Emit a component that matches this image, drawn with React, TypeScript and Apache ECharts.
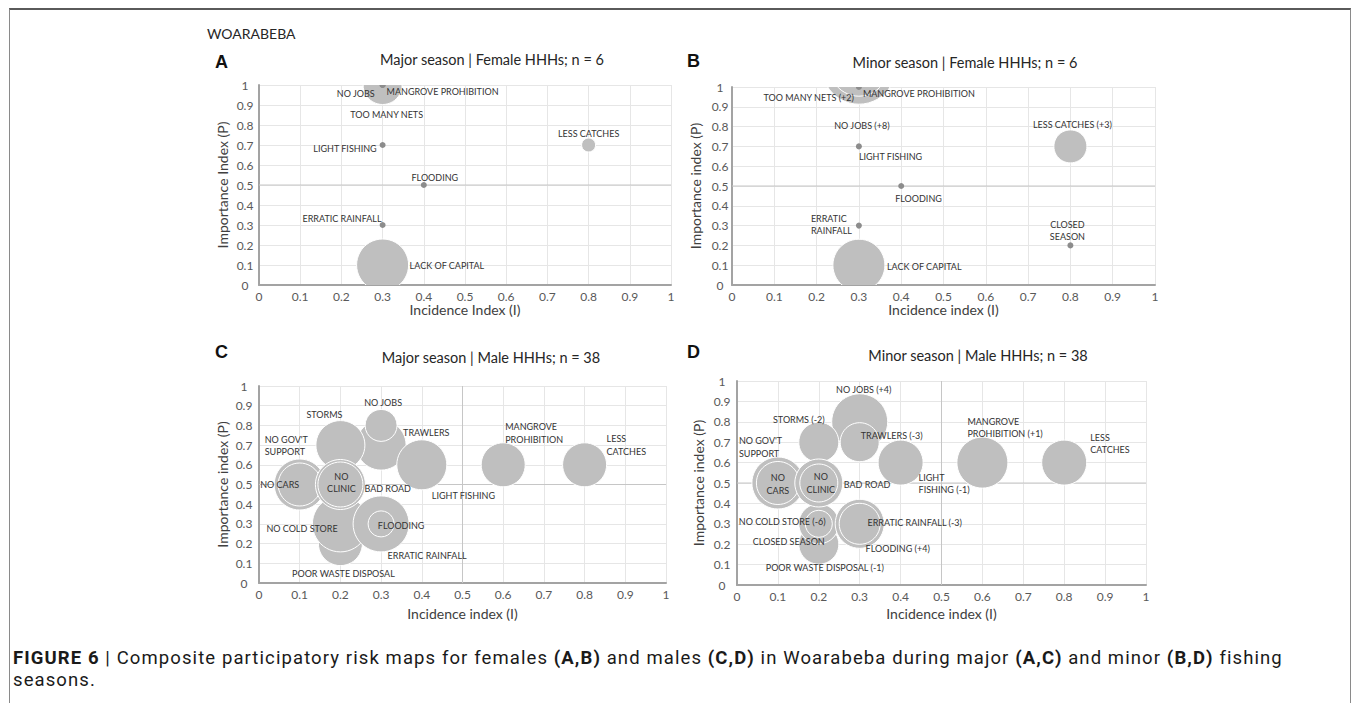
import React, { useEffect, useRef } from "react";
import * as echarts from "echarts";

type Align = "left" | "center" | "right";
// [label, incidence index (I), importance index (P), bubble size]
type Risk = [string, number, number, number];
// label placement relative to the bubble centre: [dx, dy, align]
type Place = [number, number, Align];

const femaleMajor: Risk[] = [
  ["NO JOBS", 0.3, 1, 39],
  ["TOO MANY NETS", 0.3, 1, 6],
  ["MANGROVE PROHIBITION", 0.3, 1, 6],
  ["LESS CATCHES", 0.8, 0.7, 14],
  ["LIGHT FISHING", 0.3, 0.7, 6],
  ["FLOODING", 0.4, 0.5, 6],
  ["ERRATIC RAINFALL", 0.3, 0.3, 6],
  ["LACK OF CAPITAL", 0.3, 0.1, 52],
];

const femaleMinor: Risk[] = [
  ["NO JOBS (+8)", 0.3, 1.1, 74],
  ["TOO MANY NETS (+2)", 0.3, 1.1, 58],
  ["MANGROVE PROHIBITION", 0.3, 1, 6],
  ["LIGHT FISHING", 0.3, 0.7, 6],
  ["FLOODING", 0.4, 0.5, 6],
  ["ERRATIC\nRAINFALL", 0.3, 0.3, 6],
  ["LESS CATCHES (+3)", 0.8, 0.7, 33],
  ["CLOSED\nSEASON", 0.8, 0.2, 6],
  ["LACK OF CAPITAL", 0.3, 0.1, 52],
];

const maleMajor: Risk[] = [
  ["LESS\nCATCHES", 0.8, 0.6, 44],
  ["MANGROVE\nPROHIBITION", 0.6, 0.6, 44],
  ["TRAWLERS", 0.3, 0.7, 50],
  ["NO JOBS", 0.3, 0.8, 32],
  ["LIGHT FISHING", 0.4, 0.6, 50],
  ["STORMS", 0.2, 0.7, 49],
  ["POOR WASTE DISPOSAL", 0.2, 0.2, 44],
  ["NO COLD STORE", 0.2, 0.3, 56],
  ["NO GOV'T\nSUPPORT", 0.1, 0.5, 51],
  ["NO CARS", 0.1, 0.5, 43],
  ["BAD ROAD", 0.2, 0.5, 50],
  ["NO\nCLINIC", 0.2, 0.5, 45],
  ["FLOODING", 0.3, 0.3, 56],
  ["ERRATIC RAINFALL", 0.3, 0.3, 26],
];

const maleMinor: Risk[] = [
  ["LESS\nCATCHES", 0.8, 0.6, 45],
  ["MANGROVE\nPROHIBITION (+1)", 0.6, 0.6, 51],
  ["LIGHT\nFISHING (-1)", 0.4, 0.6, 45],
  ["NO JOBS (+4)", 0.3, 0.8, 56],
  ["TRAWLERS (-3)", 0.3, 0.7, 39],
  ["STORMS (-2)", 0.2, 0.7, 40],
  ["CLOSED SEASON", 0.2, 0.2, 40],
  ["POOR WASTE DISPOSAL (-1)", 0.2, 0.3, 40],
  ["NO COLD STORE (-6)", 0.2, 0.3, 27],
  ["NO GOV'T\nSUPPORT", 0.1, 0.5, 52],
  ["NO\nCARS", 0.1, 0.5, 43],
  ["BAD ROAD", 0.2, 0.5, 48],
  ["NO\nCLINIC", 0.2, 0.5, 38],
  ["FLOODING (+4)", 0.3, 0.3, 49],
  ["ERRATIC RAINFALL (-3)", 0.3, 0.3, 41],
];

const femaleMajorPlaces: Place[] = [
  [-8, 8, "right"],
  [4, 29, "center"],
  [4, 6, "left"],
  [0, -12, "center"],
  [-6, 3, "right"],
  [11, -8, "center"],
  [-1, -7, "right"],
  [27, 0, "left"],
];

const femaleMinorPlaces: Place[] = [
  [3, 58, "center"],
  [-5, 30, "right"],
  [4, 6, "left"],
  [0, 10, "left"],
  [-6, 12, "left"],
  [-48, -1, "left"],
  [2, -22, "center"],
  [-3, -15, "center"],
  [28, 1, "left"],
];

const maleMajorPlaces: Place[] = [
  [22, -20, "left"],
  [2, -32, "left"],
  [22, -13, "left"],
  [2, -23, "center"],
  [10, 31, "left"],
  [-16, -31, "center"],
  [3, 30, "center"],
  [-74, 5, "left"],
  [-35, -39, "left"],
  [-20, 0, "center"],
  [24, 4, "left"],
  [1, -2, "center"],
  [20, 2, "center"],
  [46, 32, "center"],
];

const maleMinorPlaces: Place[] = [
  [26, -19, "left"],
  [-15, -35, "left"],
  [18, 21, "left"],
  [4, -32, "center"],
  [32, -7, "center"],
  [-20, -23, "center"],
  [-30, -3, "center"],
  [6, 44, "center"],
  [-80, -2, "left"],
  [-39, -36, "left"],
  [0, 1, "center"],
  [25, 1, "left"],
  [2, 0, "center"],
  [38, 25, "center"],
  [55, -1, "center"],
];

const panelLetters = ["A", "B", "C", "D"];
const panelTitles = [
  "Major season | Female HHHs; n = 6",
  "Minor season | Female HHHs; n = 6",
  "Major season | Male HHHs; n = 38",
  "Minor season | Male HHHs; n = 38",
];
const xNames = ["Incidence Index (I)", "Incidence index (I)", "Incidence index (I)", "Incidence index (I)"];
const yNames = ["Importance Index (P)", "Importance index (P)", "Importance index (P)", "Importance index (P)"];
const threshold = [0.5, 0.5];

const panels = [
  {
    data: femaleMajor, places: femaleMajorPlaces, vertical: false,
    grid: { left: 259, top: 85, width: 412, height: 200 },
    letterPos: [215, 62], titlePos: [492, 59], yMargin: 14, xNameGap: 17, yNameGap: 30,
  },
  {
    data: femaleMinor, places: femaleMinorPlaces, vertical: false,
    grid: { left: 732, top: 87, width: 423, height: 198 },
    letterPos: [687, 61], titlePos: [965, 62], yMargin: 12, xNameGap: 17, yNameGap: 30,
  },
  {
    data: maleMajor, places: maleMajorPlaces, vertical: true,
    grid: { left: 259, top: 386, width: 407, height: 197 },
    letterPos: [215, 352], titlePos: [491, 357], yMargin: 15, xNameGap: 23, yNameGap: 30,
  },
  {
    data: maleMinor, places: maleMinorPlaces, vertical: true,
    grid: { left: 737, top: 381, width: 409, height: 204 },
    letterPos: [687, 352], titlePos: [978, 355], yMargin: 15, xNameGap: 21, yNameGap: 32,
  },
];

const FONT = "Lato, 'Open Sans', sans-serif";

function textStyle(text: string, font: string, fill: string, align: Align, extra: any = {}) {
  return {
    text, font, fill, textFill: fill,
    align, textAlign: align,
    verticalAlign: "middle", textVerticalAlign: "middle",
    ...extra,
  };
}

function buildOption() {
  const grid: any[] = [];
  const xAxis: any[] = [];
  const yAxis: any[] = [];
  const series: any[] = [];
  const graphic: any[] = [];

  graphic.push({
    type: "text", x: 207, y: 33, silent: true,
    style: textStyle("WOARABEBA", `14px ${FONT}`, "#262626", "left"),
  });

  panels.forEach((p, i) => {
    grid.push({ ...p.grid, containLabel: false });
    xAxis.push({
      type: "value", gridIndex: i, min: 0, max: 1, interval: 0.1,
      name: xNames[i], nameLocation: "middle", nameGap: p.xNameGap,
      nameTextStyle: { fontFamily: FONT, fontSize: 14, color: "#404040" },
      axisLine: { show: true, onZero: false, lineStyle: { color: "#a3a3a3", width: 2 } },
      axisTick: { show: false },
      axisLabel: { fontFamily: FONT, fontSize: 12, color: "#595959", margin: 5 },
      splitLine: { show: true, lineStyle: { color: "#e6e6e6", width: 1 } },
    });
    yAxis.push({
      type: "value", gridIndex: i, min: 0, max: 1, interval: 0.1,
      name: yNames[i], nameLocation: "middle", nameGap: p.yNameGap,
      nameTextStyle: { fontFamily: FONT, fontSize: 14, color: "#404040" },
      axisLine: { show: true, onZero: false, lineStyle: { color: "#a3a3a3", width: 2 } },
      axisTick: { show: false },
      axisLabel: { fontFamily: FONT, fontSize: 12, color: "#595959", margin: p.yMargin, align: "center" },
      splitLine: { show: true, lineStyle: { color: "#e6e6e6", width: 1 } },
    });

    // quadrant threshold lines
    series.push({
      type: "custom", coordinateSystem: "cartesian2d", xAxisIndex: i, yAxisIndex: i,
      z: 1, silent: true, encode: { x: 0, y: 1 },
      data: [threshold],
      renderItem: (params: any, api: any) => {
        const tx = api.value(0);
        const ty = api.value(1);
        const a = api.coord([0, ty]);
        const b = api.coord([1, ty]);
        const children: any[] = [
          { type: "line", shape: { x1: a[0], y1: a[1], x2: b[0], y2: b[1] }, style: { stroke: "#c6c6c6", lineWidth: 1 } },
        ];
        if (p.vertical) {
          const c = api.coord([tx, 0]);
          const d = api.coord([tx, 1]);
          children.push({ type: "line", shape: { x1: c[0], y1: c[1], x2: d[0], y2: d[1] }, style: { stroke: "#c6c6c6", lineWidth: 1 } });
        }
        return { type: "group", children };
      },
    });

    // bubbles
    series.push({
      type: "custom", coordinateSystem: "cartesian2d", xAxisIndex: i, yAxisIndex: i,
      z: 2, clip: true, silent: true, encode: { x: 0, y: 1 },
      data: p.data.map((r) => [r[1], r[2], r[3]]),
      renderItem: (params: any, api: any) => {
        const c = api.coord([api.value(0), api.value(1)]);
        const size = api.value(2);
        const dot = size < 10;
        return {
          type: "circle",
          shape: { cx: c[0], cy: c[1], r: size / 2 },
          style: dot
            ? { fill: "#8c8c8c", stroke: "none" }
            : { fill: "#bfbfbf", stroke: "#ffffff", lineWidth: 1 },
        };
      },
    });

    // labels
    series.push({
      type: "custom", coordinateSystem: "cartesian2d", xAxisIndex: i, yAxisIndex: i,
      z: 3, clip: false, silent: true, encode: { x: 0, y: 1 },
      data: p.data.map((r) => [r[1], r[2]]),
      renderItem: (params: any, api: any) => {
        const c = api.coord([api.value(0), api.value(1)]);
        const pl = p.places[params.dataIndex];
        const label = p.data[params.dataIndex][0];
        return {
          type: "text",
          x: c[0] + pl[0],
          y: c[1] + pl[1],
          style: textStyle(label, `9px ${FONT}`, "#333333", pl[2], { lineHeight: 12.5, textLineHeight: 12.5 }),
        };
      },
    });

    graphic.push({
      type: "text", x: p.letterPos[0], y: p.letterPos[1], silent: true,
      style: textStyle(panelLetters[i], `bold 18px 'Liberation Sans', Arial, sans-serif`, "#111111", "left"),
    });
    graphic.push({
      type: "text", x: p.titlePos[0], y: p.titlePos[1], silent: true,
      style: textStyle(panelTitles[i], `14.5px ${FONT}`, "#262626", "center"),
    });
  });

  return { animation: false, backgroundColor: "#ffffff", grid, xAxis, yAxis, series, graphic };
}

export default function App() {
  const ref = useRef<HTMLDivElement>(null);
  useEffect(() => {
    if (!ref.current) return;
    const chart = echarts.init(ref.current, undefined, { renderer: "svg" });
    chart.setOption(buildOption() as any);
    return () => chart.dispose();
  }, []);
  return (
    <div style={{ position: "absolute", left: 0, top: 0, width: 1355, height: 703, background: "#fff", overflow: "hidden" }}>
      <div ref={ref} style={{ position: "absolute", left: 0, top: 0, width: 1355, height: 703 }} />
      <div
        style={{
          position: "absolute", left: 9, top: 8, width: 1342, height: 700,
          borderTop: "2px solid #5a5a5a", borderLeft: "1px solid #8a8a8a", borderRight: "1px solid #8a8a8a",
          boxSizing: "border-box", pointerEvents: "none",
        }}
      />
      <div
        style={{
          position: "absolute", left: 13, top: 647, width: 1335, whiteSpace: "nowrap",
          fontFamily: "Roboto, sans-serif", fontSize: 18.5, letterSpacing: "1.1px", lineHeight: "22px", color: "#1a1a1a",
        }}
      >
        <b>FIGURE 6</b> | Composite participatory risk maps for females <b>(A,B)</b> and males <b>(C,D)</b> in Woarabeba during major <b>(A,C)</b> and minor <b>(B,D)</b> fishing
        <br />
        seasons.
      </div>
    </div>
  );
}
